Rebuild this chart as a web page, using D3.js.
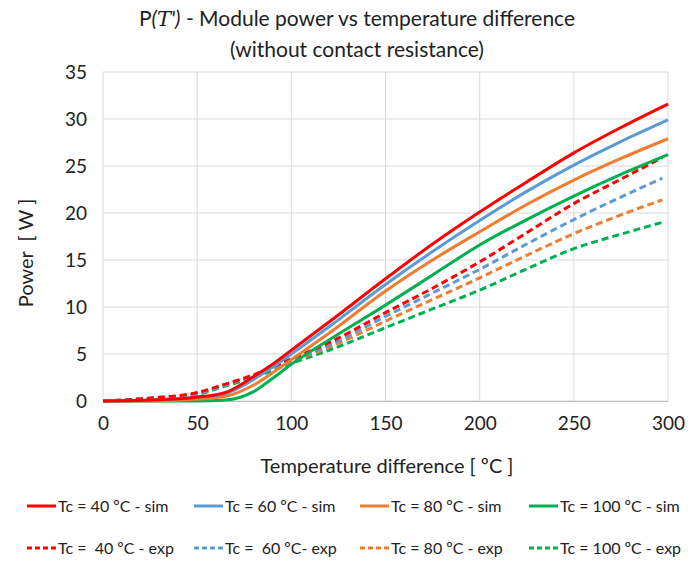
<!DOCTYPE html>
<html>
<head>
<meta charset="utf-8">
<script src="https://cdn.jsdelivr.net/npm/d3@7"></script>
<style>
  body { margin: 0; background: #fff; }
  text { font-family: Lato, "Open Sans", sans-serif; fill: #222; white-space: pre; }
</style>
</head>
<body>
<div id="chart"></div>
<script>
const width = 699;
const height = 562;

// temperature difference points [°C]
const dT = [0, 25, 50, 65, 80, 90, 100, 120, 150, 175, 200, 225, 250, 275, 300];

// simulated power [W]
const sim40 = [0, 0.1, 0.4, 0.9, 2.6, 3.9, 5.4, 8.4, 13.0, 16.7, 20.1, 23.3, 26.4, 29.1, 31.6];
const sim60 = [0, 0.1, 0.4, 0.8, 2.3, 3.6, 5.0, 7.9, 12.4, 15.9, 19.2, 22.3, 25.1, 27.6, 29.9];
const sim80 = [0, 0, 0.2, 0.5, 1.7, 3.0, 4.4, 7.2, 11.7, 15.0, 18.0, 20.9, 23.5, 25.8, 27.9];
const sim100 = [0, 0, 0, 0.1, 1.0, 2.4, 3.9, 6.5, 10.2, 13.4, 16.6, 19.3, 21.8, 24.1, 26.2];

// experimental power [W]
const expX = [0, 25, 50, 65, 80, 100, 120, 150, 175, 200, 225, 250, 275, 297];
const exp40 = [0, 0.3, 0.9, 1.8, 2.8, 4.5, 6.2, 9.4, 12.0, 14.8, 17.9, 21.0, 23.6, 25.9];
const exp60 = [0, 0.3, 0.8, 1.7, 2.7, 4.3, 5.9, 9.0, 11.5, 14.0, 16.7, 19.3, 21.7, 23.7];
const exp80 = [0, 0.3, 0.8, 1.7, 2.7, 4.2, 5.7, 8.5, 10.8, 13.1, 15.5, 17.8, 19.8, 21.4];
const exp100 = [0, 0.2, 0.7, 1.6, 2.5, 4.0, 5.4, 7.8, 9.8, 11.8, 14.05, 16.2, 17.75, 19.0];

const xTicks = [0, 50, 100, 150, 200, 250, 300];
const yTicks = [0, 5, 10, 15, 20, 25, 30, 35];

const series = [
    { name: "Tc = 40 ºC - sim", x: dT, y: sim40, color: "#ff0000", dash: null },
    { name: "Tc = 60 ºC - sim", x: dT, y: sim60, color: "#5b9bd5", dash: null },
    { name: "Tc = 80 ºC - sim", x: dT, y: sim80, color: "#ed7d31", dash: null },
    { name: "Tc = 100 ºC - sim", x: dT, y: sim100, color: "#00b050", dash: null },
    { name: "Tc =  40 ºC - exp", x: expX, y: exp40, color: "#ff0000", dash: "7,4" },
    { name: "Tc =  60 ºC- exp", x: expX, y: exp60, color: "#5b9bd5", dash: "7,4" },
    { name: "Tc = 80 ºC - exp", x: expX, y: exp80, color: "#ed7d31", dash: "7,4" },
    { name: "Tc = 100 ºC - exp", x: expX, y: exp100, color: "#00b050", dash: "7,4" }
];

const margin = { left: 103, right: 31, top: 72, bottom: 161 };

const svg = d3.select("#chart")
    .append("svg")
    .attr("width", width)
    .attr("height", height)
    .attr("viewBox", [0, 0, width, height]);

const x = d3.scaleLinear().domain([0, 300]).range([margin.left, width - margin.right]);
const y = d3.scaleLinear().domain([0, 35]).range([height - margin.bottom, margin.top]);

// title
const title = svg.append("text")
    .attr("x", 357)
    .attr("y", 26)
    .attr("text-anchor", "middle")
    .style("font-size", "21px");
title.append("tspan").text("P");
title.append("tspan").style("font-style", "italic").text("(");
title.append("tspan").style("font-family", "'DejaVu Serif', serif").style("font-style", "italic").text("T");
title.append("tspan").style("font-style", "italic").text("')");
title.append("tspan").text(" - Module power vs temperature difference");

svg.append("text")
    .attr("x", 357)
    .attr("y", 57)
    .attr("text-anchor", "middle")
    .style("font-size", "21px")
    .text("(without contact resistance)");

// grid
svg.append("g")
    .selectAll("line")
    .data(xTicks)
    .join("line")
    .attr("x1", d => x(d)).attr("x2", d => x(d))
    .attr("y1", y(0)).attr("y2", y(35))
    .attr("stroke", "#d9d9d9")
    .attr("stroke-width", 1);

svg.append("g")
    .selectAll("line")
    .data(yTicks)
    .join("line")
    .attr("x1", x(0)).attr("x2", x(300))
    .attr("y1", d => y(d)).attr("y2", d => y(d))
    .attr("stroke", "#d9d9d9")
    .attr("stroke-width", 1);

// axes
const xAxis = svg.append("g")
    .attr("transform", "translate(0," + y(0) + ")")
    .call(d3.axisBottom(x).tickValues(xTicks).tickSize(0).tickPadding(16));
xAxis.select(".domain").attr("stroke", "#bfbfbf");
xAxis.selectAll("text").style("font-size", "19px").attr("fill", "#222");

const yAxis = svg.append("g")
    .attr("transform", "translate(" + x(0) + ",0)")
    .call(d3.axisLeft(y).tickValues(yTicks).tickSize(0).tickPadding(16));
yAxis.select(".domain").remove();
yAxis.selectAll("text").style("font-size", "19px").attr("fill", "#222");

svg.append("text")
    .attr("x", 387)
    .attr("y", 473)
    .attr("text-anchor", "middle")
    .style("font-size", "20px")
    .text("Temperature difference [ ºC ]");

svg.append("text")
    .attr("transform", "translate(33,253) rotate(-90)")
    .attr("text-anchor", "middle")
    .style("font-size", "20px")
    .text("Power  [ W ]");

// lines
const line = d3.line()
    .x(d => x(d[0]))
    .y(d => y(d[1]))
    .curve(d3.curveMonotoneX);

svg.append("g")
    .selectAll("path")
    .data(series.slice().reverse())
    .join("path")
    .attr("d", s => line(s.x.map((v, i) => [v, s.y[i]])))
    .attr("fill", "none")
    .attr("stroke", s => s.color)
    .attr("stroke-width", 3)
    .attr("stroke-dasharray", s => s.dash);

// legend
const legX = [27, 194, 360, 529];
const legY = [506, 548];

const leg = svg.append("g")
    .selectAll("g")
    .data(series)
    .join("g")
    .attr("transform", (d, i) => "translate(" + legX[i % 4] + "," + legY[Math.floor(i / 4)] + ")");

leg.append("line")
    .attr("x1", 0).attr("x2", 29)
    .attr("y1", 0).attr("y2", 0)
    .attr("stroke", d => d.color)
    .attr("stroke-width", 3)
    .attr("stroke-dasharray", d => d.dash ? "5,3" : null);

leg.append("text")
    .attr("x", 31)
    .attr("y", 6)
    .style("font-size", "16px")
    .text(d => d.name);
</script>
</body>
</html>
